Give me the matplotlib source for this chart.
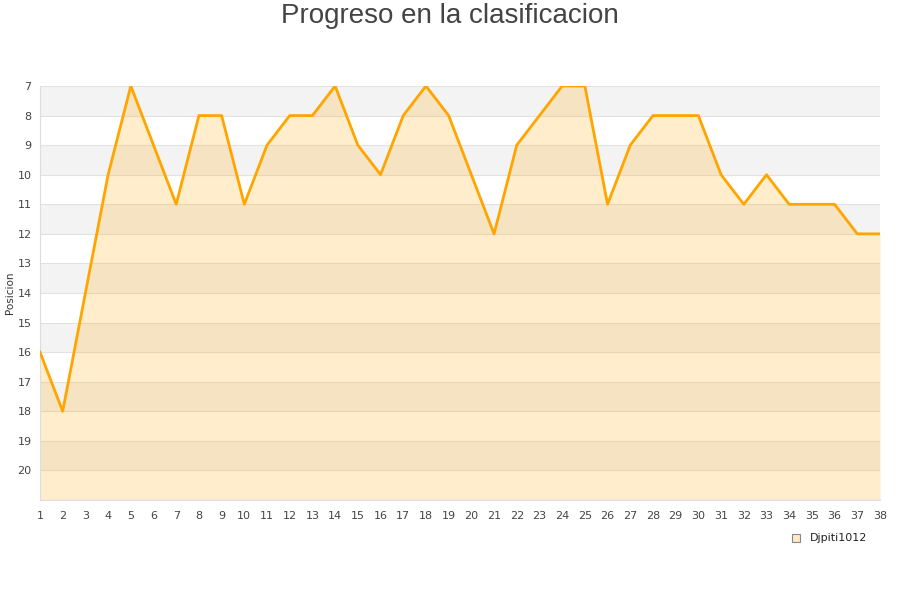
import matplotlib
matplotlib.use('Agg')
import matplotlib.pyplot as plt

# Jornadas y posiciones
jornadas = list(range(1, 39))
posiciones = [16, 18, 14, 10, 7, 9, 11, 8, 8, 11,
              9, 8, 8, 7, 9, 10, 8, 7, 8, 10,
              12, 9, 8, 7, 7, 11, 9, 8, 8, 8,
              10, 11, 10, 11, 11, 11, 12, 12]
y_ticks = list(range(7, 21))
equipo = 'Djpiti1012'

fig = plt.figure(figsize=(9, 6), dpi=100)
ax = fig.add_axes([40/900, 100/600, 840/900, 414/600])

# Bandas alternas de fondo
for y in range(7, 21, 2):
    ax.axhspan(y, y + 1, color='#f3f3f3', zorder=0, lw=0)
for y in range(7, 22):
    ax.axhline(y, color='#e2e2e2', lw=0.8, zorder=1)

ax.fill_between(jornadas, posiciones, 21, color='#ffa500', alpha=0.2, lw=0, zorder=2)
ax.plot(jornadas, posiciones, color='#ffa500', lw=2, zorder=3)

ax.set_xlim(1, 38)
ax.set_ylim(21, 7)
ax.set_xticks(jornadas)
ax.set_yticks(y_ticks)
ax.tick_params(axis='both', length=0, labelsize=8, colors='#444444')
ax.tick_params(axis='x', pad=8)
ax.tick_params(axis='y', pad=6)
for s in ['top', 'right']:
    ax.spines[s].set_visible(False)
ax.spines['left'].set_color('#dddddd')
ax.spines['bottom'].set_color('#dddddd')

fig.text(10/900, 1 - 293/600, 'Posicion', rotation=90, ha='center', va='center',
         fontsize=7.5, color='#333333')

fig.text(0.5, 1 - 16/600, 'Progreso en la clasificacion', ha='center', va='center',
         fontsize=20, color='#444444', family='Liberation Sans')

# Leyenda
fig.patches.append(plt.Rectangle((792/900, 1 - 542/600), 8/900, 8/600,
                                 transform=fig.transFigure, facecolor='#fde9c4',
                                 edgecolor='#888888', lw=0.8))
fig.text(810/900, 1 - 538/600, equipo, ha='left', va='center', fontsize=8, color='#222222')

plt.savefig('out.png', dpi=100)
plt.close()
